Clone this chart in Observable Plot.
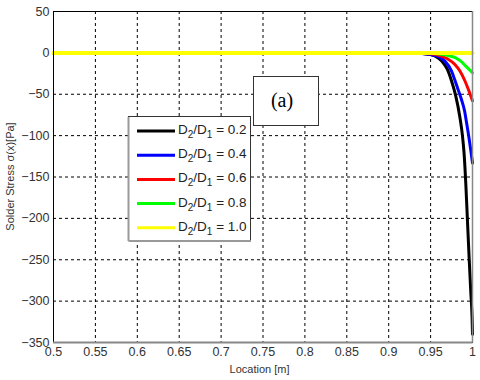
<!DOCTYPE html>
<html><head><meta charset="utf-8">
<script src="https://cdn.jsdelivr.net/npm/d3@7"></script>
<script src="https://cdn.jsdelivr.net/npm/@observablehq/plot@0.6"></script>
<style>body{margin:0;background:#fff;} #chart{width:480px;height:380px;}</style>
</head><body><div id="chart"></div>
<script>
// Series: D2/D1 ratios and colours
const ratios = ["0.2", "0.4", "0.6", "0.8", "1.0"];
const colors = ["#000000", "#0000ff", "#ff0000", "#00ff00", "#ffff00"];

// Location [m] and Solder Stress [Pa]
const x02 = [0.5, 0.93, 0.95, 0.96, 0.965, 0.97, 0.975, 0.98, 0.985, 0.988, 0.99, 0.992, 0.994, 0.996, 0.998, 0.9995, 1.0];
const y02 = [0, 0, -2, -7, -12, -20, -34, -52, -78, -100, -122, -158, -203, -248, -290, -320, -340];
const x04 = [0.5, 0.93, 0.95, 0.96, 0.967, 0.975, 0.979, 0.983, 0.987, 0.9905, 0.993, 0.996, 0.998, 1.0];
const y04 = [0, 0, -2, -5, -10, -22, -33, -45, -57, -70, -85, -104, -118, -133];
const x06 = [0.5, 0.92, 0.95, 0.96, 0.97, 0.979, 0.985, 0.991, 0.995, 1.0];
const y06 = [0, 0, -1, -3, -7, -14, -22, -34, -44, -58];
const x08 = [0.5, 0.93, 0.95, 0.96, 0.97, 0.98, 0.986, 0.99, 0.995, 1.0];
const y08 = [0, 0, -0.5, -1.5, -3, -6, -10, -14, -19, -24];
const x10 = [0.5, 1.0];
const y10 = [0, 0];

// Tick values
const xTicks = [0.5, 0.55, 0.6, 0.65, 0.7, 0.75, 0.8, 0.85, 0.9, 0.95, 1];
const yTicks = [50, 0, -50, -100, -150, -200, -250, -300, -350];

const seriesX = [x02, x04, x06, x08, x10];
const seriesY = [y02, y04, y06, y08, y10];
const rows = [];
ratios.forEach((r, i) => seriesX[i].forEach((x, j) => rows.push({ratio: r, x, y: seriesY[i][j]})));

const W = 480, H = 380, mL = 53, mR = 8, mT = 11, mB = 38;
const font = "'Liberation Sans', Arial, sans-serif";

const chart = Plot.plot({
  width: W, height: H,
  marginLeft: mL, marginRight: mR, marginTop: mT, marginBottom: mB,
  style: {fontFamily: font, fontSize: "12.5px", color: "#333", background: "#fff"},
  x: {domain: [0.5, 1], ticks: xTicks, tickFormat: d => String(+d.toFixed(2))},
  y: {domain: [-350, 50], ticks: yTicks, tickFormat: d => String(d)},
  color: {domain: ratios, range: colors},
  marks: [
    Plot.gridX(xTicks, {stroke: "#000", strokeOpacity: 1, strokeDasharray: "3,3", strokeWidth: 1}),
    Plot.gridY(yTicks, {stroke: "#000", strokeOpacity: 1, strokeDasharray: "3,3", strokeWidth: 1}),
    Plot.axisX({ticks: xTicks, tickSize: 0, tickPadding: 5, label: null, fontSize: 12.5, tickFormat: d => String(+d.toFixed(2))}),
    Plot.axisY({ticks: yTicks, tickSize: 0, tickPadding: 4, label: null, fontSize: 12.5}),
    Plot.line(rows, {x: "x", y: "y", z: "ratio", stroke: d => d.ratio, strokeWidth: d => d.ratio === "1.0" ? 4 : 3, curve: "monotone-x"}),
    Plot.frame({stroke: "#000", strokeWidth: 1})
  ]
});
document.getElementById("chart").appendChild(chart);

const svg = d3.select(chart);
const x0 = mL, x1 = W - mR, y0 = mT, y1 = H - mB;
// gray bottom/right edges
svg.append("line").attr("x1", x0).attr("x2", x1 + 0.5).attr("y1", y1 + 0.5).attr("y2", y1 + 0.5).attr("stroke", "#888").attr("stroke-width", 2);
svg.append("line").attr("x1", x1 + 0.5).attr("x2", x1 + 0.5).attr("y1", y0).attr("y2", y1 + 0.5).attr("stroke", "#888").attr("stroke-width", 1.5);

// axis titles
svg.append("text").attr("x", (x0 + x1) / 2 - 3).attr("y", 373).attr("text-anchor", "middle")
  .attr("font-family", font).attr("font-size", 11).attr("fill", "#333").text("Location [m]");
svg.append("text").attr("transform", `translate(14,${(y0 + y1) / 2}) rotate(-90)`).attr("text-anchor", "middle")
  .attr("font-family", font).attr("font-size", 11).attr("fill", "#333").text("Solder Stress σ(x)[Pa]");

// (a) box
svg.append("rect").attr("x", 253.5).attr("y", 76.5).attr("width", 65).attr("height", 49).attr("fill", "#fff").attr("stroke", "#333");
svg.append("text").attr("x", 282).attr("y", 107).attr("text-anchor", "middle")
  .attr("font-family", "'Liberation Serif', 'Times New Roman', serif").attr("font-size", 20).attr("fill", "#000").text("(a)");

// legend
const lg = svg.append("g");
lg.append("rect").attr("x", 128.5).attr("y", 116.5).attr("width", 122).attr("height", 124).attr("fill", "#fff").attr("stroke", "#333");
lg.append("line").attr("x1", 128.5).attr("x2", 128.5).attr("y1", 117).attr("y2", 241).attr("stroke", "#999").attr("stroke-width", 2);
lg.append("line").attr("x1", 128.5).attr("x2", 251).attr("y1", 241).attr("y2", 241).attr("stroke", "#999").attr("stroke-width", 2);
ratios.forEach((r, i) => {
  const yy = 131 + i * 24.2;
  lg.append("line").attr("x1", 137).attr("x2", 175).attr("y1", yy).attr("y2", yy).attr("stroke", colors[i]).attr("stroke-width", 3);
  const t = lg.append("text").attr("x", 178).attr("y", yy + 3).attr("text-anchor", "start")
    .attr("font-family", font).attr("font-size", 13.5).attr("fill", "#222");
  t.append("tspan").text("D");
  t.append("tspan").attr("dy", 4).attr("font-size", 10).text("2");
  t.append("tspan").attr("dy", -4).text("/D");
  t.append("tspan").attr("dy", 4).attr("font-size", 10).text("1");
  t.append("tspan").attr("dy", -4).text(" = " + r);
});
</script>
</body></html>
